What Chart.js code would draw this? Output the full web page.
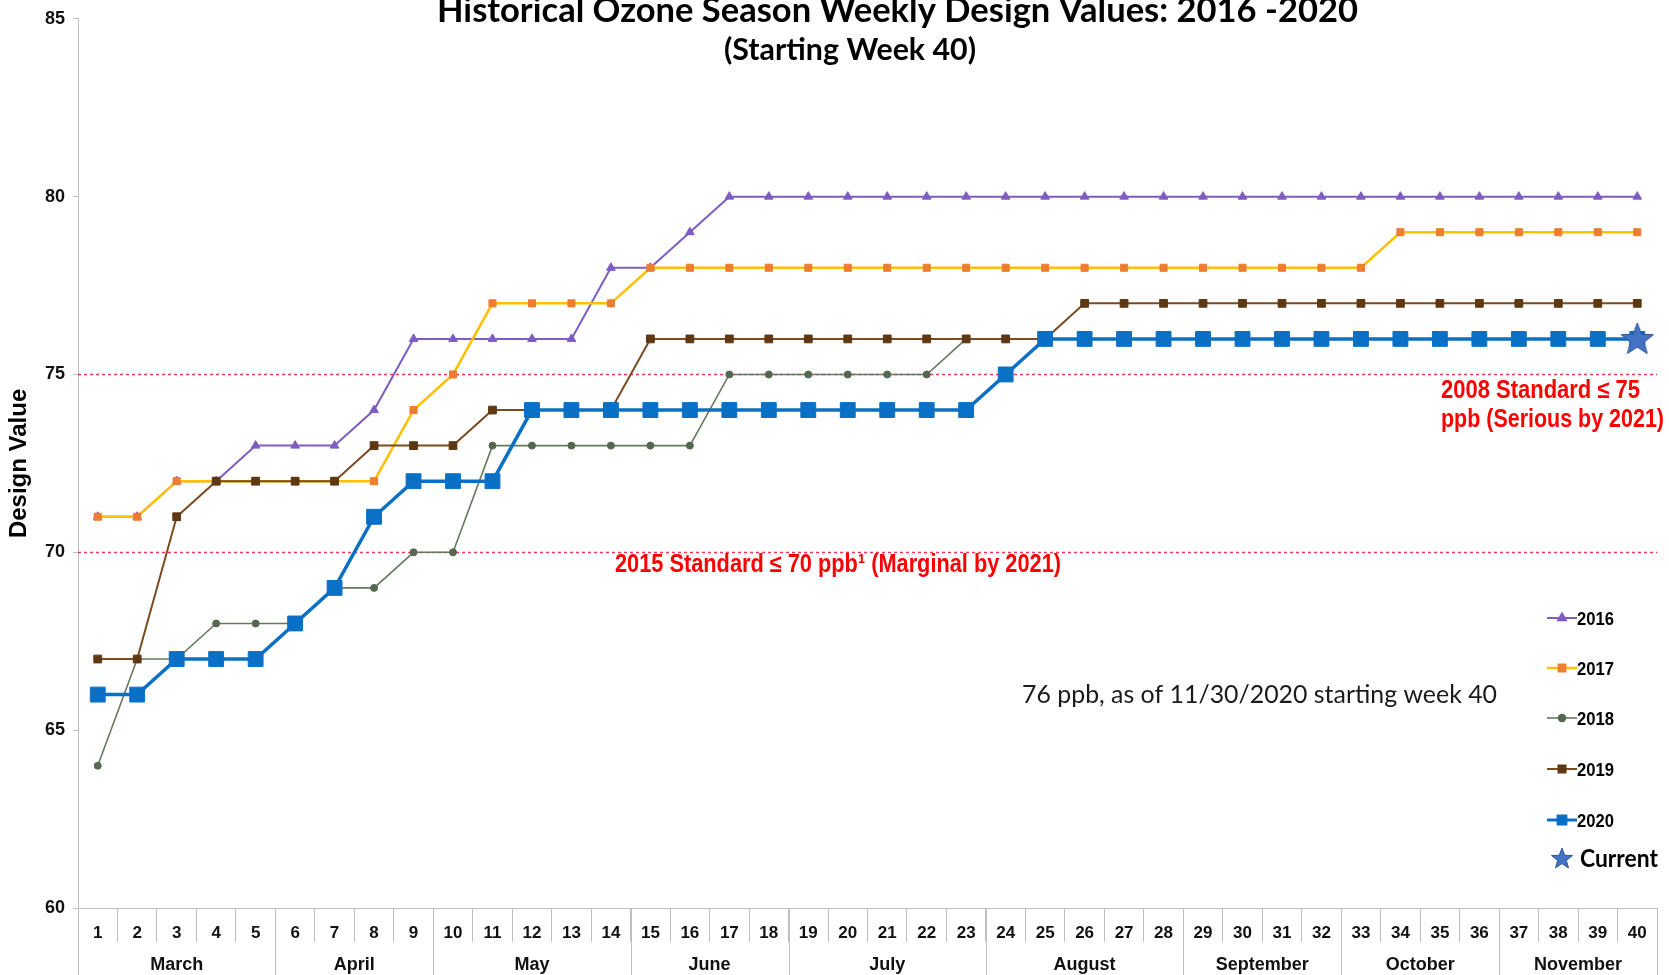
<!DOCTYPE html>
<html>
<head>
<meta charset="utf-8">
<title>Historical Ozone Season Weekly Design Values</title>
<script src="https://cdn.jsdelivr.net/npm/chart.js@4.4.1/dist/chart.umd.min.js"></script>
<style>
  html, body { margin: 0; padding: 0; background: #fff; }
  #wrap { width: 1669px; height: 975px; }
</style>
</head>
<body>
<div id="wrap"><canvas id="ozone-chart" width="1669" height="975"></canvas></div>
<script>
/* ── DATA ── */
const weeks = ['1','2','3','4','5','6','7','8','9','10','11','12','13','14','15','16','17','18','19','20',
               '21','22','23','24','25','26','27','28','29','30','31','32','33','34','35','36','37','38','39','40'];
const monthNames     = ['March','April','May','June','July','August','September','October','November'];
const monthFirstWeek = [1, 6, 10, 15, 19, 24, 29, 33, 37];
const yTicks = [60, 65, 70, 75, 80, 85];
const standards = [75, 70];

const dv2016 = [71,71,72,72,73,73,73,74,76,76,76,76,76,78,78,79,80,80,80,80,
                80,80,80,80,80,80,80,80,80,80,80,80,80,80,80,80,80,80,80,80];
const dv2017 = [71,71,72,72,72,72,72,72,74,75,77,77,77,77,78,78,78,78,78,78,
                78,78,78,78,78,78,78,78,78,78,78,78,78,79,79,79,79,79,79,79];
const dv2018 = [64,67,67,68,68,68,69,69,70,70,73,73,73,73,73,73,75,75,75,75,
                75,75,76,76,76,76,76,76,76,76,76,76,76,76,76,76,76,76,76,76];
const dv2019 = [67,67,71,72,72,72,72,73,73,73,74,74,74,74,76,76,76,76,76,76,
                76,76,76,76,76,77,77,77,77,77,77,77,77,77,77,77,77,77,77,77];
const dv2020 = [66,66,67,67,67,68,69,71,72,72,72,74,74,74,74,74,74,74,74,74,
                74,74,74,75,76,76,76,76,76,76,76,76,76,76,76,76,76,76,76,76];
const currentWeek  = '40';
const currentValue = 76;

/* ── FONTS ── */
const NARROW = "'Liberation Sans Narrow', 'Liberation Sans', Arial, sans-serif";
const HUMAN  = "Lato, 'Open Sans', sans-serif";

/* filled five point star, used as a point style */
function makeStar(r, fill, stroke) {
    const c = document.createElement('canvas');
    c.width = c.height = Math.ceil(r * 2 + 2);
    const g = c.getContext('2d');
    g.beginPath();
    for (let i = 0; i < 10; i++) {
        const rad = i % 2 ? r * 0.42 : r;
        const a = -Math.PI / 2 + i * Math.PI / 5;
        g.lineTo(c.width / 2 + rad * Math.cos(a), c.height / 2 + 1 + rad * Math.sin(a));
    }
    g.closePath();
    g.fillStyle = fill; g.fill();
    g.strokeStyle = stroke; g.lineWidth = 1; g.stroke();
    return c;
}
const starBig   = makeStar(17, '#4472c4', '#2f5597');
const starSmall = makeStar(11, '#4472c4', '#2f5597');

function series(label, data, line, marker, style, radius, width, order) {
    return {
        label, data, order,
        borderColor: line, backgroundColor: marker,
        pointBackgroundColor: marker, pointBorderColor: marker, pointBorderWidth: 1,
        pointStyle: style, pointRadius: radius, pointHoverRadius: radius,
        borderWidth: width, tension: 0, fill: false
    };
}

/* draw text squeezed or stretched to a given width (Calibri-like narrowness) */
function fitText(ctx, text, left, baseline, width, font, color) {
    ctx.save();
    ctx.font = font;
    ctx.fillStyle = color;
    ctx.textAlign = 'left';
    ctx.textBaseline = 'alphabetic';
    const w = ctx.measureText(text).width;
    ctx.translate(left, baseline);
    ctx.scale(width / w, 1);
    ctx.fillText(text, 0, 0);
    ctx.restore();
}

/* ── PLUGINS ── */
const standardLines = {
    id: 'standardLines',
    beforeDatasetsDraw(chart) {
        const { ctx, chartArea, scales: { y } } = chart;
        ctx.save();
        ctx.strokeStyle = 'rgba(240,20,60,0.85)';
        ctx.lineWidth = 1.5;
        ctx.setLineDash([3, 3]);
        standards.forEach(v => {
            const py = Math.round(y.getPixelForValue(v)) + 0.5;
            ctx.beginPath();
            ctx.moveTo(chartArea.left, py);
            ctx.lineTo(chartArea.right, py);
            ctx.stroke();
        });
        ctx.restore();
    }
};

const monthAxis = {
    id: 'monthAxis',
    afterDraw(chart) {
        const { ctx, chartArea, scales: { x } } = chart;
        const half = (x.getPixelForValue(1) - x.getPixelForValue(0)) / 2;
        ctx.save();
        ctx.strokeStyle = '#bfbfbf';
        ctx.lineWidth = 1;
        ctx.fillStyle = '#111';
        ctx.font = 'bold 18px ' + NARROW;
        ctx.textAlign = 'center';
        ctx.textBaseline = 'middle';
        monthNames.forEach((name, i) => {
            const first = monthFirstWeek[i] - 1;
            const last = i + 1 < monthFirstWeek.length ? monthFirstWeek[i + 1] - 2 : weeks.length - 1;
            const x0 = x.getPixelForValue(first) - half;
            const x1 = x.getPixelForValue(last) + half;
            [x0, x1].forEach(px => {
                ctx.beginPath();
                ctx.moveTo(Math.round(px) + 0.5, chartArea.bottom);
                ctx.lineTo(Math.round(px) + 0.5, chart.height);
                ctx.stroke();
            });
            ctx.fillText(name, (x0 + x1) / 2, 965);
        });
        ctx.restore();
    }
};

const notes = {
    id: 'notes',
    afterDraw(chart) {
        const ctx = chart.ctx;
        fitText(ctx, 'Historical Ozone Season Weekly Design Values: 2016 -2020', 437, 22, 921, 'bold 34px ' + HUMAN, '#000');
        fitText(ctx, '(Starting Week 40)', 724, 60, 252, 'bold 30px ' + HUMAN, '#000');
        fitText(ctx, '76 ppb, as of 11/30/2020 starting week 40', 1022, 703, 475, '25px ' + HUMAN, '#1a1a1a');
        fitText(ctx, '2015 Standard \u2264 70 ppb\u00b9 (Marginal by 2021)', 615, 572, 446, 'bold 25px ' + NARROW, '#ff0000');
        fitText(ctx, '2008 Standard \u2264 75', 1441, 398, 199, 'bold 25px ' + NARROW, '#ff0000');
        fitText(ctx, 'ppb (Serious by 2021)', 1441, 427, 223, 'bold 25px ' + NARROW, '#ff0000');
    }
};

const sideLegend = {
    id: 'sideLegend',
    afterDraw(chart) {
        const ctx = chart.ctx;
        const rows = [618, 668, 718, 769, 820];
        const legendRadius = [4.5, 4.5, 3.5, 5, 5.5];
        chart.data.datasets.slice(0, 5).forEach((ds, i) => {
            const y = rows[i];
            ctx.save();
            ctx.strokeStyle = ds.borderColor;
            ctx.lineWidth = Math.min(ds.borderWidth, 3);
            ctx.beginPath();
            ctx.moveTo(1547, y); ctx.lineTo(1577, y);
            ctx.stroke();
            ctx.fillStyle = ds.pointBackgroundColor;
            ctx.strokeStyle = ds.pointBorderColor;
            Chart.helpers.drawPoint(ctx, { pointStyle: ds.pointStyle, radius: legendRadius[i], rotation: 0, borderWidth: 1 }, 1562, y);
            ctx.restore();
            fitText(ctx, ds.label, 1577, y + 7, 37, 'bold 19px ' + NARROW, '#000');
        });
        ctx.drawImage(starSmall, 1562 - starSmall.width / 2, 858 - starSmall.height / 2);
        fitText(ctx, 'Current', 1580, 867, 78, 'bold 25px ' + HUMAN, '#000');
    }
};

/* ── CHART ── */
new Chart(document.getElementById('ozone-chart'), {
    type: 'line',
    data: {
        labels: weeks,
        datasets: [
            series('2016', dv2016, '#7e5cc2', '#7e5cc2', 'triangle', 5, 2, 5),
            series('2017', dv2017, '#ffc000', '#ed7d31', 'rect', 5, 2.5, 4),
            series('2018', dv2018, '#66785e', '#55684f', 'circle', 3.5, 1.6, 3),
            series('2019', dv2019, '#7b4a1f', '#5e3812', 'rect', 5.5, 2, 2),
            series('2020', dv2020, '#0a70c6', '#0a70c6', 'rect', 10.5, 3.5, 1),
            {
                label: 'Current', order: 0, showLine: false,
                data: [{ x: currentWeek, y: currentValue }],
                pointStyle: starBig, pointRadius: 17, pointHoverRadius: 17,
                backgroundColor: '#4472c4', borderColor: '#4472c4'
            }
        ]
    },
    options: {
        responsive: false,
        devicePixelRatio: 1,
        animation: false,
        layout: { autoPadding: false, padding: { top: 15, right: 12, left: 0, bottom: 0 } },
        plugins: {
            legend: { display: false },
            title: { display: false },
            tooltip: { enabled: false }
        },
        scales: {
            x: {
                offset: true,
                afterFit(scale) { scale.height = 67; },
                border: { display: true, color: '#bfbfbf', width: 1 },
                grid: { offset: true, drawOnChartArea: false, drawTicks: true, tickLength: 34, color: '#bfbfbf' },
                ticks: {
                    autoSkip: false, maxRotation: 0, padding: -19, color: '#111',
                    font: { family: NARROW, size: 17, weight: 'bold' }
                }
            },
            y: {
                min: yTicks[0],
                max: yTicks[yTicks.length - 1],
                afterFit(scale) { scale.width = 78; },
                afterBuildTicks(scale) { scale.ticks = yTicks.map(v => ({ value: v })); },
                border: { display: true, color: '#bfbfbf', width: 1 },
                grid: { drawOnChartArea: false, drawTicks: true, tickLength: 5, color: '#bfbfbf' },
                ticks: { padding: 8, color: '#111', font: { family: NARROW, size: 18, weight: 'bold' } },
                title: {
                    display: true, text: 'Design Value', color: '#000',
                    padding: { top: 5, bottom: 0 },
                    font: { family: "'Liberation Sans', Arial, sans-serif", size: 24, weight: 'bold' }
                }
            }
        }
    },
    plugins: [standardLines, monthAxis, notes, sideLegend]
});
</script>
</body>
</html>
